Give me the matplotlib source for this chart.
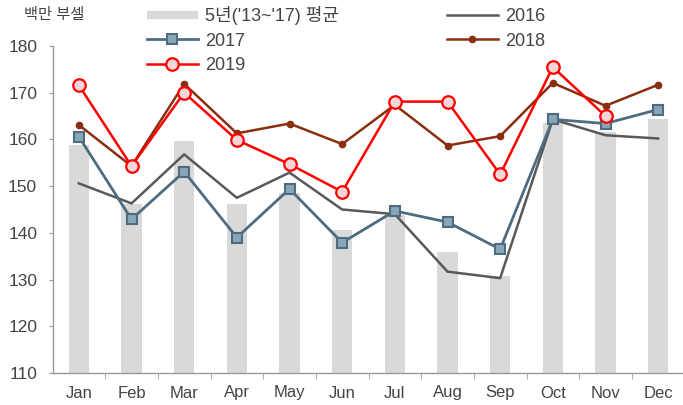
import matplotlib
matplotlib.use("Agg")
import matplotlib.pyplot as plt
from matplotlib.lines import Line2D
import numpy as np

plt.rcParams['font.family'] = ['Liberation Sans', 'Noto Sans CJK KR', 'DejaVu Sans']

months = ['Jan', 'Feb', 'Mar', 'Apr', 'May', 'Jun', 'Jul', 'Aug', 'Sep', 'Oct', 'Nov', 'Dec']
avg5 = [158.8, 146.1, 159.7, 146.1, 148.6, 140.6, 143.8, 135.8, 130.8, 163.6, 161.5, 164.4]
y2016 = [150.6, 146.3, 156.8, 147.5, 152.9, 145.0, 144.0, 131.7, 130.3, 164.3, 160.9, 160.2]
y2017 = [160.6, 142.9, 153.1, 139.0, 149.4, 137.9, 144.7, 142.3, 136.5, 164.3, 163.4, 166.4]
y2018 = [163.1, 154.3, 171.9, 161.3, 163.4, 159.0, 167.4, 158.7, 160.7, 172.1, 167.2, 171.7]
y2019 = [171.6, 154.3, 170.0, 159.9, 154.7, 148.8, 168.1, 168.1, 152.5, 175.5, 165.0]
yticks = [110, 120, 130, 140, 150, 160, 170, 180]

W, H = 683, 405
fig = plt.figure(figsize=(W / 100, H / 100), dpi=100)
ax = fig.add_axes([52.5 / W, 1 - 373 / H, (684.5 - 52.5) / W, (373 - 46) / H])

x = np.arange(len(months))
bar_color = '#d9d9d9'
ax.bar(x, avg5, width=0.38, color=bar_color, zorder=1)
l16, = ax.plot(x, y2016, color='#595959', lw=1.8, zorder=2)
l17, = ax.plot(x, y2017, color='#4d6c80', lw=2.0, marker='s', ms=6.5,
               mfc='#8aa5b6', mec='#4d6c80', mew=1.5, zorder=3)
l18, = ax.plot(x, y2018, color='#8b2e10', lw=1.8, marker='o', ms=4.5,
               mfc='#8b2e10', mec='#8b2e10', zorder=4)
l19, = ax.plot(np.arange(len(y2019)), y2019, color='#ff0000', lw=1.8, marker='o', ms=9,
               mfc='#f3d6da', mec='#ff0000', mew=1.6, zorder=5)

ax.set_xlim(-0.5, len(months) - 0.5)
ax.set_ylim(110, 180)
ax.set_yticks(yticks)
ax.set_yticklabels([str(v) for v in yticks], fontsize=12.5, color='#444444')
ax.set_xticks(x)
ax.set_xticklabels(months, fontsize=12, color='#444444')
ax.tick_params(axis='x', which='major', length=0, pad=9)
ax.set_xticks(np.arange(0.5, len(months) - 0.5, 1), minor=True)
ax.tick_params(axis='x', which='minor', length=4, color='#999999', direction='out')
ax.tick_params(axis='y', length=3, color='#999999', direction='out', pad=8)
for s in ['top', 'right']:
    ax.spines[s].set_visible(False)
for s in ['left', 'bottom']:
    ax.spines[s].set_color('#999999')
    ax.spines[s].set_linewidth(1.0)

fig.text(24 / W, 1 - 15 / H, '백만 부셀', fontsize=11, color='#444444', va='center', ha='left')

bar_proxy = Line2D([], [], color=bar_color, lw=6, solid_capstyle='butt')
leg = fig.legend([bar_proxy, l17, l19, l16, l18],
                 ["5년('13~'17) 평균", '2017', '2019', '2016', '2018'],
                 ncol=2, loc='upper left', bbox_to_anchor=(147 / W, 1 - 6 / H),
                 frameon=False, fontsize=13, handlelength=2.8, borderpad=0,
                 borderaxespad=0, columnspacing=6.0, labelspacing=0.42,
                 handletextpad=0.4)
for t in leg.get_texts():
    t.set_color('#444444')

fig.savefig('out.png', dpi=100)
